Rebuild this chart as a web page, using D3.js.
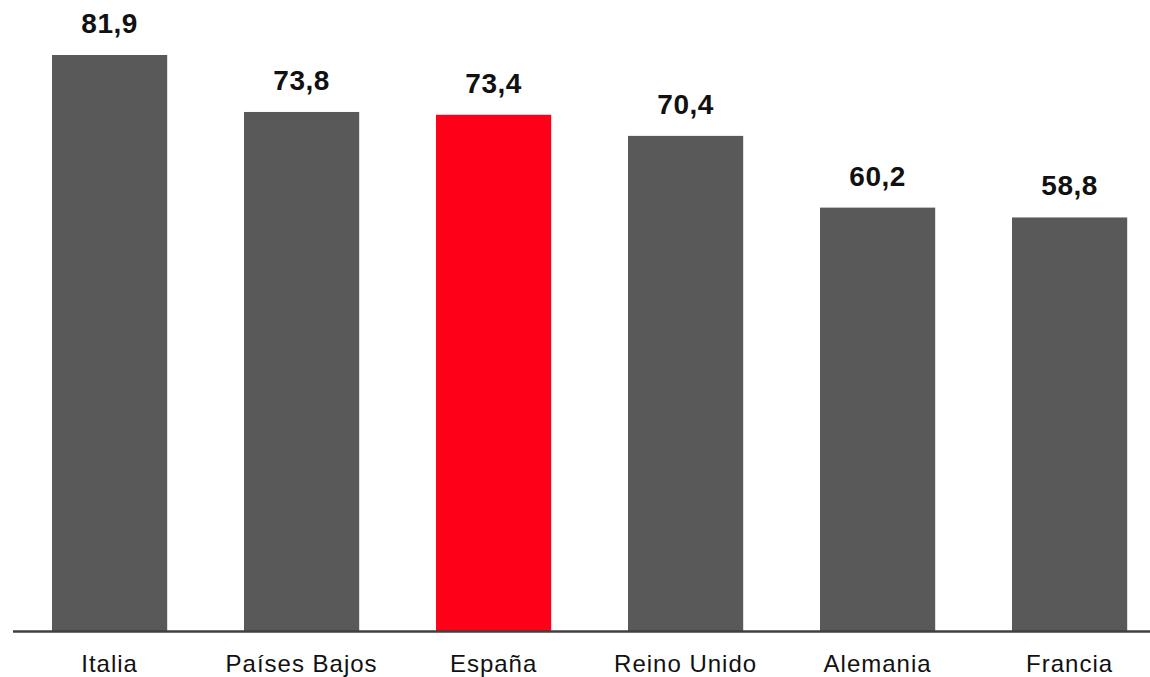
<!DOCTYPE html>
<html>
<head>
<meta charset="utf-8">
<script src="https://cdn.jsdelivr.net/npm/d3@7"></script>
<style>
  body { margin: 0; background: #fff; }
  svg { display: block; }
</style>
</head>
<body>
<svg id="chart"></svg>
<script>
const countries = ['Italia', 'Países Bajos', 'España', 'Reino Unido', 'Alemania', 'Francia'];
const values = [81.9, 73.8, 73.4, 70.4, 60.2, 58.8];
const highlight = 'España';

const width = 1150;
const height = 677;
const baseline = 631;

const svg = d3.select('#chart')
  .attr('width', width)
  .attr('height', height);

const x = d3.scaleBand()
  .domain(countries)
  .range([13.6, 1165.6])
  .paddingInner(0.4)
  .paddingOuter(0.2);

// 81,9 -> top at ~55px
const y = d3.scaleLinear()
  .domain([0, 81.9])
  .range([baseline, 55]);

const data = countries.map((c, i) => ({ country: c, value: values[i] }));

// bars
svg.selectAll('rect.bar')
  .data(data)
  .enter()
  .append('rect')
  .attr('class', 'bar')
  .attr('x', d => x(d.country))
  .attr('y', d => y(d.value))
  .attr('width', x.bandwidth())
  .attr('height', d => baseline - y(d.value))
  .attr('fill', d => d.country === highlight ? '#ff0019' : '#595959');

// value labels
svg.selectAll('text.value')
  .data(data)
  .enter()
  .append('text')
  .attr('class', 'value')
  .attr('x', d => x(d.country) + x.bandwidth() / 2)
  .attr('y', d => y(d.value) - 22)
  .attr('text-anchor', 'middle')
  .style('font-family', '"Liberation Sans", Arial, sans-serif')
  .style('font-weight', 'bold')
  .style('font-size', '28px')
  .style('letter-spacing', '0.5px')
  .style('fill', '#111')
  .text(d => d3.format('.1f')(d.value).replace('.', ','));

// axis line
svg.append('line')
  .attr('x1', 13)
  .attr('x2', width)
  .attr('y1', baseline + 0.5)
  .attr('y2', baseline + 0.5)
  .attr('stroke', '#404040')
  .attr('stroke-width', 2.5);

// category labels
svg.selectAll('text.cat')
  .data(countries)
  .enter()
  .append('text')
  .attr('class', 'cat')
  .attr('x', d => x(d) + x.bandwidth() / 2)
  .attr('y', 672)
  .attr('text-anchor', 'middle')
  .style('font-family', '"Liberation Sans", Arial, sans-serif')
  .style('font-size', '24px')
  .style('letter-spacing', '1px')
  .style('fill', '#111')
  .text(d => d);
</script>
</body>
</html>
